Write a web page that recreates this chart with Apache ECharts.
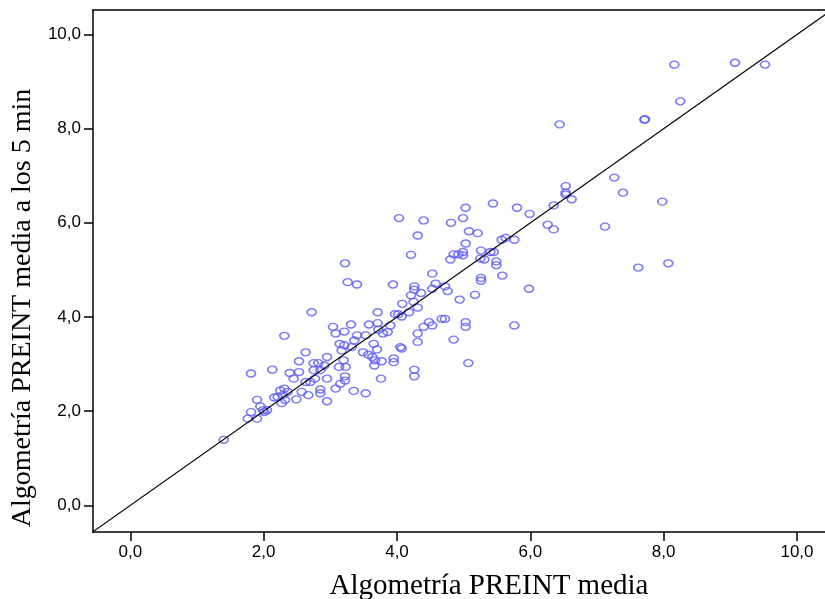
<!DOCTYPE html>
<html>
<head>
<meta charset="utf-8">
<script src="https://cdn.jsdelivr.net/npm/echarts@6/dist/echarts.min.js"></script>
<style>
html, body { margin: 0; padding: 0; background: #fff; }
#chart { width: 825px; height: 599px; }
</style>
</head>
<body>
<div id="chart"></div>
<script>
const tickValues = [0, 2, 4, 6, 8, 10];

// Algometría PREINT media (x)
const preintMedia = [
  2.72, 3.71, 3.04, 3.31, 3.08, 3.21, 3.58, 3.71, 3.72, 3.90, 3.86, 3.79, 3.40, 3.53, 2.31, 3.14,
  3.21, 3.36, 3.32, 3.17, 3.65, 3.70, 3.49, 3.57, 3.63, 3.67, 3.77, 3.66, 3.95, 2.63, 2.53, 2.95,
  2.75, 2.82, 2.91, 2.85, 3.20, 3.13, 3.23, 2.75, 2.53, 2.39, 2.45, 1.81, 2.13, 2.63, 2.77, 2.95,
  2.70, 3.22, 3.22, 3.15, 3.08, 3.76, 3.35, 3.53, 2.85, 2.85, 2.95, 2.57, 2.67, 2.49, 2.31, 2.25,
  2.36, 2.29, 2.21, 2.16, 2.27, 2.32, 1.90, 1.95, 1.81, 1.99, 2.05, 2.01, 1.76, 1.90, 1.40,
  4.03, 4.40, 5.03, 5.44, 5.80, 6.35, 6.62, 5.99, 6.26, 6.35, 4.99, 4.81, 4.31, 5.08, 5.21, 5.03,
  4.21, 5.57, 5.63, 5.76, 5.26, 5.40, 5.45, 4.85, 4.92, 4.99, 4.99, 4.80, 5.25, 5.31, 5.49, 5.49,
  4.53, 5.58, 5.26, 5.26, 5.98, 3.94, 4.26, 4.26, 4.58, 4.53, 4.72, 4.76, 4.36, 4.21, 4.08, 4.25,
  4.31, 4.94, 5.17, 3.97, 4.02, 4.07, 4.18, 4.48, 4.53, 4.40, 4.67, 4.72, 5.03, 5.03, 5.76, 4.31,
  4.31, 4.85, 4.05, 4.07,
  8.16, 9.07, 9.52, 8.25, 7.71, 7.72, 6.44, 7.26, 7.39, 7.98, 6.53, 6.53, 6.53, 7.12, 7.62, 8.07,
  3.22, 3.26, 3.40, 5.07, 4.26, 4.26, 3.95
];

// Algometría PREINT media a los 5 min (y)
const preint5min = [
  4.10, 4.10, 3.79, 3.84, 3.65, 3.69, 3.84, 3.87, 3.73, 3.82, 3.68, 3.65, 3.61, 3.61, 3.60, 3.43,
  3.40, 3.50, 3.36, 3.29, 3.43, 3.31, 3.25, 3.20, 3.15, 3.08, 3.06, 2.97, 3.12, 3.25, 3.06, 3.15,
  3.02, 3.02, 2.97, 2.87, 3.08, 2.94, 2.94, 2.87, 2.83, 2.81, 2.69, 2.80, 2.88, 2.62, 2.69, 2.69,
  2.62, 2.74, 2.65, 2.58, 2.48, 2.69, 2.43, 2.38, 2.46, 2.38, 2.21, 2.41, 2.34, 2.25, 2.48, 2.44,
  2.41, 2.34, 2.30, 2.29, 2.17, 2.24, 2.24, 2.10, 1.98, 2.02, 2.02, 1.98, 1.84, 1.84, 1.39,
  6.10, 6.05, 6.32, 6.41, 6.32, 6.37, 6.50, 6.19, 5.96, 5.86, 6.10, 6.00, 5.73, 5.82, 5.78, 5.56,
  5.32, 5.64, 5.68, 5.64, 5.41, 5.38, 5.38, 5.33, 5.33, 5.38, 5.31, 5.22, 5.24, 5.22, 5.18, 5.10,
  4.92, 4.88, 4.83, 4.77, 4.60, 4.69, 4.65, 4.58, 4.71, 4.60, 4.65, 4.55, 4.51, 4.46, 4.28, 4.32,
  4.20, 4.37, 4.47, 4.06, 4.06, 4.01, 4.10, 3.89, 3.82, 3.79, 3.96, 3.96, 3.89, 3.79, 3.82, 3.65,
  3.47, 3.52, 3.36, 3.33,
  9.36, 9.40, 9.36, 8.58, 8.19, 8.20, 8.09, 6.96, 6.64, 6.45, 6.78, 6.64, 6.60, 5.92, 5.05, 5.14,
  5.14, 4.74, 4.69, 3.02, 2.88, 2.74, 3.04
];

// reference line y = x
const diagonal = [[-1, -1], [11, 11]];

const points = preintMedia.map((x, i) => [x, preint5min[i]]);
const fmt = v => v.toFixed(1).replace('.', ',');

const axisColor = '#000';
const labelStyle = {
  customValues: tickValues,
  formatter: fmt,
  fontFamily: 'Liberation Sans',
  fontSize: 17,
  color: '#000'
};

const chart = echarts.init(document.getElementById('chart'));
chart.setOption({
  backgroundColor: '#fff',
  animation: false,
  grid: { left: 93, right: 0, top: 10, bottom: 67, outerBoundsMode: 'none' },
  xAxis: [
    {
      type: 'value',
      min: -0.56,
      max: 10.42,
      name: 'Algometría PREINT media',
      nameLocation: 'middle',
      nameGap: 40,
      nameTextStyle: {
        fontFamily: 'Liberation Serif',
        fontSize: 29,
        color: '#000',
        padding: [0, 0, 0, 60]
      },
      axisLine: { onZero: false, lineStyle: { color: axisColor, width: 1.5 } },
      axisTick: { customValues: tickValues, length: 9, lineStyle: { color: axisColor, width: 1.5 } },
      axisLabel: Object.assign({ margin: 12 }, labelStyle),
      splitLine: { show: false }
    },
    {
      type: 'value',
      position: 'top',
      min: -0.56,
      max: 10.42,
      axisLine: { show: true, onZero: false, lineStyle: { color: axisColor, width: 1.5 } },
      axisTick: { show: false },
      axisLabel: { show: false },
      splitLine: { show: false }
    }
  ],
  yAxis: {
    type: 'value',
    min: -0.567,
    max: 10.52,
    name: 'Algometría PREINT media a los 5 min',
    nameLocation: 'middle',
    nameGap: 56,
    nameTextStyle: {
      fontFamily: 'Liberation Serif',
      fontSize: 28,
      color: '#000',
      padding: [0, 74, 0, 0]
    },
    axisLine: { show: true, onZero: false, lineStyle: { color: axisColor, width: 1.5 } },
    axisTick: { show: true, customValues: tickValues, length: 9, lineStyle: { color: axisColor, width: 1.5 } },
    axisLabel: Object.assign({ margin: 12 }, labelStyle),
    splitLine: { show: false }
  },
  series: [
    {
      type: 'line',
      data: diagonal,
      symbol: 'none',
      clip: true,
      silent: true,
      lineStyle: { color: '#000', width: 1.2 }
    },
    {
      type: 'scatter',
      data: points,
      symbol: 'circle',
      symbolSize: [9, 7],
      itemStyle: { color: 'transparent', borderColor: '#5a5af5', borderWidth: 1.5 }
    }
  ]
});
</script>
</body>
</html>
